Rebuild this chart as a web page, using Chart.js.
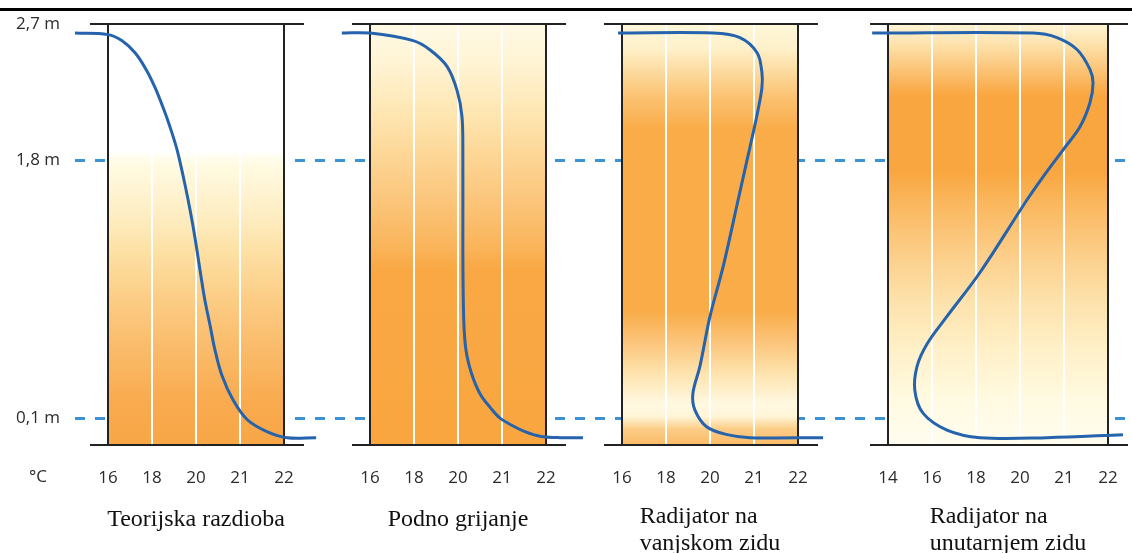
<!DOCTYPE html>
<html>
<head>
<meta charset="utf-8">
<script src="https://cdn.jsdelivr.net/npm/chart.js@4/dist/chart.umd.min.js"></script>
<style>
  html, body { margin: 0; padding: 0; background: #fff; }
  #wrap { position: relative; width: 1132px; height: 553px; }
  #rule { position: absolute; left: 0; top: 8px; width: 1132px; height: 3px; background: #000; }
  canvas { position: absolute; left: 0; top: 0; }
</style>
</head>
<body>
<div id="wrap">
  <canvas id="profiles" width="1132" height="553"></canvas>
  <div id="rule"></div>
</div>
<script>
// titles under each panel
const titles = [
  ['Teorijska razdioba'],
  ['Podno grijanje'],
  ['Radijator na', 'vanjskom zidu'],
  ['Radijator na', 'unutarnjem zidu']
];

// temperature ticks (°C) of each panel
const ticks1 = [16, 18, 20, 21, 22];
const ticks2 = [16, 18, 20, 21, 22];
const ticks3 = [16, 18, 20, 21, 22];
const ticks4 = [14, 16, 18, 20, 21, 22];

// room height ticks (m)
const heightTicks = [0.1, 1.8, 2.7];

// temperature profiles: temperature (°C) against height (m)
const temp1 = [14.5, 16, 16.64, 17.23, 17.73, 18.14, 18.5, 18.82, 19.14, 19.41, 19.64, 19.86, 20.02,
  20.11, 20.2, 20.32, 20.43, 20.59, 20.84, 21.16, 21.61, 22.07, 22.73];
const height1 = [2.64, 2.63, 2.59, 2.51, 2.40, 2.28, 2.15, 2.02, 1.87, 1.70, 1.54, 1.37, 1.21,
  1.04, 0.88, 0.71, 0.55, 0.38, 0.22, 0.09, 0.01, -0.03, -0.03];

const temp2 = [14.72, 16, 17.96, 18.72, 19.5, 19.96, 20.09, 20.11, 20.11, 20.12, 20.14, 20.18, 20.25,
  20.36, 20.52, 20.73, 20.95, 21.23, 21.52, 21.86, 22.32, 22.84];
const height2 = [2.64, 2.64, 2.59, 2.53, 2.42, 2.26, 2.09, 1.87, 1.21, 0.88, 0.68, 0.55, 0.45,
  0.35, 0.25, 0.17, 0.10, 0.05, 0.01, -0.02, -0.03, -0.03];

const temp3 = [15.82, 20.07, 20.68, 21.07, 21.18, 21.18, 21.09, 20.98, 20.84, 20.64, 20.3, 20.0, 19.54,
  19.22, 19.32, 19.86, 20.39, 20.91, 22.57];
const height3 = [2.64, 2.64, 2.61, 2.51, 2.38, 2.28, 2.13, 1.98, 1.80, 1.54, 1.10, 0.77, 0.44,
  0.26, 0.15, 0.04, -0.01, -0.03, -0.03];

const temp4 = [13.28, 20.30, 20.84, 21.30, 21.59, 21.66, 21.59, 21.36, 20.98, 20.52, 20.16, 18.18, 16.68,
  15.78, 15.32, 15.22, 15.6, 16.68, 18.18, 20.61, 22.34];
const height4 = [2.64, 2.64, 2.61, 2.53, 2.40, 2.31, 2.18, 2.02, 1.87, 1.69, 1.54, 1.06, 0.77,
  0.59, 0.44, 0.28, 0.13, 0.02, -0.03, -0.03, -0.01];

// ---- layout / style ----
const panelTicks = [ticks1, ticks2, ticks3, ticks4];
const panelTemps = [temp1, temp2, temp3, temp4];
const panelHeights = [height1, height2, height3, height4];
const panelLeft = [108, 370, 622, 888];   // x of first tick, in strip units (= px)
const slotW = 44;                          // distance between neighbouring ticks
const titleShift = [0, 0, 0, 10];

// vertical colour ramps inside each frame (0 = top, 1 = floor)
const ramps = [
  [[0, '#ffffff'], [0.30, '#ffffff'], [0.33, '#fffbe3'], [0.45, '#feeec4'], [0.54, '#fde0a4'],
   [0.65, '#fccd85'], [0.77, '#fabb6a'], [0.89, '#f9ab4f'], [1, '#f8a646']],
  [[0, '#fffae6'], [0.10, '#fff3d2'], [0.22, '#fee5b0'], [0.30, '#fdd899'], [0.42, '#fbc57a'],
   [0.53, '#fab45a'], [0.58, '#f9a844'], [1, '#f9a640']],
  [[0, '#fff8dc'], [0.06, '#fef0c8'], [0.17, '#fbc373'], [0.25, '#f9ac48'], [0.68, '#f9ac48'],
   [0.75, '#fbc378'], [0.83, '#fee4af'], [0.90, '#fff8e1'], [0.93, '#fff5d7'], [0.96, '#fccd87'],
   [1, '#fab964']],
  [[0, '#fff5d7'], [0.05, '#fde1aa'], [0.14, '#fab45a'], [0.17, '#f9a640'], [0.35, '#f9a640'],
   [0.42, '#fab65c'], [0.54, '#fccd87'], [0.65, '#fde1aa'], [0.77, '#fff0c8'], [0.89, '#fffae1'],
   [1, '#fffdf0']]
];

// temperature -> position along the (non linear) temperature axis of a panel
function toX(p, t) {
  const tk = panelTicks[p];
  const n = tk.length;
  let pos;
  if (t <= tk[0]) {
    pos = (t - tk[0]) / (tk[1] - tk[0]);
  } else if (t >= tk[n - 1]) {
    pos = n - 1 + (t - tk[n - 1]) / (tk[n - 1] - tk[n - 2]);
  } else {
    let i = 0;
    while (t > tk[i + 1]) i++;
    pos = i + (t - tk[i]) / (tk[i + 1] - tk[i]);
  }
  return panelLeft[p] + pos * slotW;
}

const xTickVals = [];
const xTickLabels = [];
panelTicks.forEach((tk, p) => tk.forEach(t => {
  xTickVals.push(toX(p, t));
  xTickLabels.push(String(t));
}));

const datasets = panelTemps.map((temps, p) => ({
  data: temps.map((t, i) => ({ x: toX(p, t), y: panelHeights[p][i] })),
  borderColor: '#2563ad',
  borderWidth: 3,
  pointRadius: 0,
  tension: 0.35,
  fill: false
}));

const panelPlugin = {
  id: 'panels',
  beforeDraw(chart) {
    const ctx = chart.ctx;
    const xs = chart.scales.x;
    const ys = chart.scales.y;
    const top = ys.getPixelForValue(heightTicks[heightTicks.length - 1]);
    const bottom = ys.bottom;
    ctx.save();
    // dashed reference heights, hidden behind the frames
    ctx.strokeStyle = '#3d92d4';
    ctx.lineWidth = 3;
    ctx.setLineDash([10, 10]);
    heightTicks.slice(0, -1).forEach(h => {
      const y = Math.round(ys.getPixelForValue(h)) + 0.5;
      ctx.beginPath();
      ctx.moveTo(xs.left + 5, y);
      ctx.lineTo(chart.width, y);
      ctx.stroke();
    });
    ctx.setLineDash([]);
    // coloured frames
    panelTicks.forEach((tk, p) => {
      const x0 = xs.getPixelForValue(toX(p, tk[0]));
      const x1 = xs.getPixelForValue(toX(p, tk[tk.length - 1]));
      const g = ctx.createLinearGradient(0, top, 0, bottom);
      ramps[p].forEach(s => g.addColorStop(s[0], s[1]));
      ctx.fillStyle = g;
      ctx.fillRect(x0, top, x1 - x0, bottom - top);
    });
    ctx.restore();
  },
  beforeDatasetsDraw(chart) {
    const ctx = chart.ctx;
    const xs = chart.scales.x;
    const ys = chart.scales.y;
    const top = Math.round(ys.getPixelForValue(heightTicks[heightTicks.length - 1]));
    const bottom = Math.round(ys.bottom) - 1;
    ctx.save();
    ctx.strokeStyle = '#222';
    ctx.lineWidth = 2;
    panelTicks.forEach((tk, p) => {
      const x0 = Math.round(xs.getPixelForValue(toX(p, tk[0])));
      const x1 = Math.round(xs.getPixelForValue(toX(p, tk[tk.length - 1])));
      ctx.beginPath();
      ctx.moveTo(x0, top); ctx.lineTo(x0, bottom);
      ctx.moveTo(x1, top); ctx.lineTo(x1, bottom);
      ctx.moveTo(x0 - 18, top); ctx.lineTo(x1 + 20, top);
      ctx.moveTo(x0 - 18, bottom); ctx.lineTo(x1 + 20, bottom);
      ctx.stroke();
    });
    ctx.restore();
  },
  afterDraw(chart) {
    const ctx = chart.ctx;
    const xs = chart.scales.x;
    ctx.save();
    ctx.fillStyle = '#2b2b2b';
    ctx.font = '17px "Open Sans"';
    ctx.textAlign = 'center';
    ctx.textBaseline = 'middle';
    ctx.fillText('°C', 38, 477);
    ctx.fillStyle = '#111';
    ctx.font = '24px "Liberation Serif"';
    ctx.textAlign = 'left';
    ctx.textBaseline = 'alphabetic';
    titles.forEach((lines, p) => {
      const tk = panelTicks[p];
      const cx = (xs.getPixelForValue(toX(p, tk[0])) + xs.getPixelForValue(toX(p, tk[tk.length - 1]))) / 2;
      const w = Math.max(...lines.map(l => ctx.measureText(l).width));
      const y0 = lines.length === 1 ? 526 : 523;
      lines.forEach((l, i) => ctx.fillText(l, cx - w / 2 + titleShift[p], y0 + i * 27));
    });
    ctx.restore();
  }
};

new Chart(document.getElementById('profiles'), {
  type: 'line',
  data: { datasets: datasets },
  plugins: [panelPlugin],
  options: {
    responsive: false,
    animation: false,
    layout: { padding: { top: 24, right: 2, left: 0, bottom: 0 } },
    plugins: { legend: { display: false }, tooltip: { enabled: false } },
    scales: {
      x: {
        type: 'linear',
        min: 70,
        max: 1130,
        afterBuildTicks: s => { s.ticks = xTickVals.map(v => ({ value: v })); },
        afterFit: s => { s.height = 107; },
        border: { display: false },
        grid: { color: '#ffffff', lineWidth: 2, drawTicks: true, tickLength: 22, tickColor: 'rgba(0,0,0,0)' },
        ticks: {
          autoSkip: false,
          maxRotation: 0,
          padding: 0,
          color: '#2b2b2b',
          font: { family: 'Open Sans', size: 17 },
          callback: (v, i) => xTickLabels[i]
        }
      },
      y: {
        type: 'linear',
        min: -0.085,
        max: 2.7,
        afterBuildTicks: s => { s.ticks = heightTicks.map(v => ({ value: v })); },
        afterFit: s => { s.width = 70; },
        border: { display: false },
        grid: { display: false, drawTicks: false },
        ticks: {
          padding: 10,
          color: '#2b2b2b',
          font: { family: 'Open Sans', size: 17 },
          callback: v => String(v).replace('.', ',') + ' m'
        }
      }
    }
  }
});
</script>
</body>
</html>
